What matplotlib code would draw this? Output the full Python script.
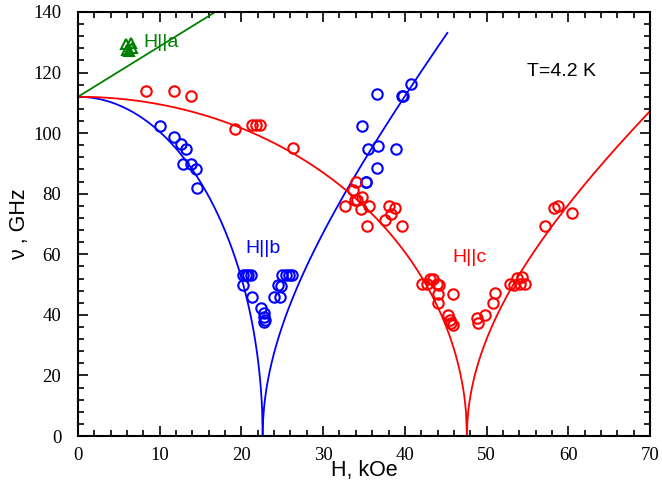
import numpy as np
import matplotlib
matplotlib.use("Agg")
import matplotlib.pyplot as plt
from matplotlib.ticker import MultipleLocator

# ---- experimental points ----
a_H = [5.9, 6.5, 6.0, 6.3, 6.6]
a_nu = [129.5, 129.8, 127.5, 127.0, 128.2]

b_H = [10.0, 11.7, 12.6, 13.2, 12.9, 13.8, 14.4, 14.6,
       20.2, 20.5, 20.8, 21.2, 20.2, 21.25, 22.4, 22.8, 22.8, 22.8, 22.9,
       25.0, 25.4, 25.8, 26.15, 24.5, 24.9, 24.0, 24.7,
       40.75, 39.6, 39.8, 36.55, 34.7, 35.5, 36.75, 38.9, 36.6, 35.2, 35.3]
b_nu = [102.5, 98.8, 96.5, 94.6, 89.8, 89.9, 88.2, 81.8,
        53.0, 53.0, 53.0, 53.0, 50.0, 46.0, 42.2, 40.5, 39.2, 37.7, 38.4,
        53.0, 53.0, 53.0, 53.0, 50.0, 49.5, 46.0, 46.0,
        116.3, 112.3, 112.3, 112.9, 102.5, 94.8, 95.8, 94.8, 88.6, 84.0, 84.0]

c_H = [8.3, 11.7, 13.8, 19.2, 21.25, 21.8, 22.3, 26.3,
       34.0, 33.7, 34.8, 33.9, 34.2, 32.7, 34.6, 35.65, 38.0, 38.8, 38.3, 37.6, 35.4, 39.6,
       42.06, 42.7, 43.1, 43.5, 43.9, 44.2, 44.1, 44.1, 45.9, 45.3, 45.5, 45.7, 45.9,
       48.8, 49.0, 49.8, 51.0, 50.8, 52.9, 53.3, 53.7, 54.3, 54.1, 54.7,
       57.2, 58.2, 58.7, 60.5]
c_nu = [114.0, 114.0, 112.3, 101.5, 102.8, 102.8, 102.8, 95.2,
        84.0, 81.3, 79.0, 78.0, 77.8, 76.0, 75.0, 76.0, 76.0, 75.2, 73.3, 71.2, 69.2, 69.2,
        50.2, 50.2, 52.0, 52.0, 50.2, 50.0, 47.0, 43.8, 47.0, 40.0, 38.2, 37.2, 36.8,
        38.8, 37.2, 40.0, 47.3, 43.8, 50.3, 50.0, 52.3, 52.5, 50.3, 50.3,
        69.3, 75.2, 76.0, 73.5]

# ---- model curve parameters ----
nu0 = 112.0
Hc_b, k_b, Hmax_b = 22.6, 3.4, 45.2
Hc_c, k_c, Hmax_c = 47.6, 2.09, 70.0
slope_a, Hmax_a = 1.667, 16.8

xticks = [0, 10, 20, 30, 40, 50, 60, 70]
yticks = [0, 20, 40, 60, 80, 100, 120, 140]

fig = plt.figure(figsize=(6.62, 4.98), dpi=100)
ax = fig.add_axes([78/662, 62/498, 572/662, 424/498])

blue = '#0000ff'
red = '#ff0000'
green = '#008000'

# model curves
h1 = np.linspace(0, Hc_b, 400)
ax.plot(h1, nu0*np.sqrt(np.clip(1-(h1/Hc_b)**2, 0, None)), color=blue, lw=1.3)
h2 = np.linspace(Hc_b, Hmax_b, 400)
ax.plot(h2, k_b*np.sqrt(np.clip(h2**2-Hc_b**2, 0, None)), color=blue, lw=1.3)
h3 = np.linspace(0, Hc_c, 400)
ax.plot(h3, nu0*np.sqrt(np.clip(1-(h3/Hc_c)**2, 0, None)), color=red, lw=1.3)
h4 = np.linspace(Hc_c, Hmax_c, 400)
ax.plot(h4, k_c*np.sqrt(np.clip(h4**2-Hc_c**2, 0, None)), color=red, lw=1.3)
h5 = np.array([0, Hmax_a])
ax.plot(h5, nu0 + slope_a*h5, color=green, lw=1.3)

ms = 7.5
ax.plot(b_H, b_nu, 'o', mfc='none', mec=blue, mew=1.5, ms=ms, ls='none')
ax.plot(c_H, c_nu, 'o', mfc='none', mec=red, mew=1.5, ms=ms, ls='none')
ax.plot(a_H, a_nu, '^', mfc='none', mec=green, mew=1.5, ms=ms, ls='none')

tf = 'Liberation Sans'
ax.text(8.0, 130, 'H||a', color=green, fontsize=14, family=tf, va='center')
ax.text(20.5, 62, 'H||b', color=blue, fontsize=14, family=tf, va='center')
ax.text(45.8, 59, 'H||c', color=red, fontsize=14, family=tf, va='center')
ax.text(55.0, 120.5, 'T=4.2 K', color='black', fontsize=14, family=tf, va='center')

ax.set_xlim(0, 70)
ax.set_ylim(0, 140)
ax.set_xticks(xticks)
ax.set_yticks(yticks)
ax.xaxis.set_minor_locator(MultipleLocator(2))
ax.yaxis.set_minor_locator(MultipleLocator(4))
ax.tick_params(which='both', direction='in', top=True, right=True, width=1.2)
ax.tick_params(which='major', length=7)
ax.tick_params(axis='x', which='major', pad=8)
ax.tick_params(axis='y', which='major', pad=12)
ax.tick_params(which='minor', length=4)
for lab in ax.get_xticklabels() + ax.get_yticklabels():
    lab.set_fontfamily('Liberation Serif')
    lab.set_fontsize(13.5)
for sp in ax.spines.values():
    sp.set_linewidth(1.5)

ax.set_xlabel('H, kOe', fontsize=15.5, family=tf, labelpad=-3)
ax.set_ylabel('\u03bd , GHz', fontsize=15.5, family=tf, labelpad=2)

fig.savefig('out.png', dpi=100)
